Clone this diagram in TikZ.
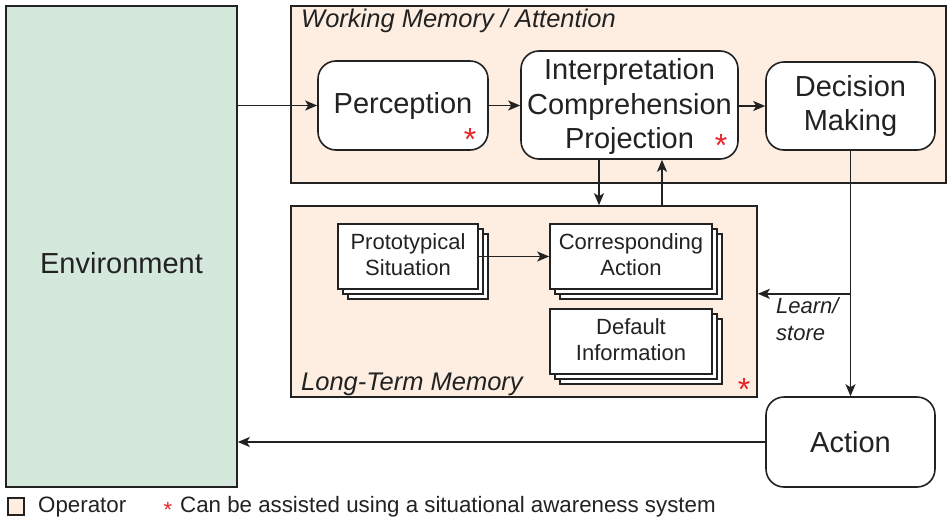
\documentclass[tikz,border=0pt]{standalone}
\usepackage{fontspec}
\setmainfont{Liberation Sans}
\usetikzlibrary{arrows.meta,calc,shadows}
\definecolor{envfill}{HTML}{D5E8DC}
\definecolor{opfill}{HTML}{FDEEE1}
\definecolor{ink}{HTML}{222222}
\definecolor{star}{HTML}{E8232A}
\begin{document}
\begin{tikzpicture}[x=1pt,y=-1pt,
  every node/.style={text=ink},
  line/.style={draw=ink,line width=1.6pt},
  arr/.style={draw=ink,line width=1.7pt,-{Stealth[length=12pt,width=10pt,inset=3pt]}},
  region/.style={line,fill=opfill,rectangle,inner sep=0pt},
  rbox/.style={line,fill=white,rounded corners=18pt,align=center,inner sep=0pt,font=\fontsize{29}{34.5}\selectfont},
  stack/.style={line,fill=white,align=center,inner sep=0pt,
     minimum width=140pt,minimum height=65pt,
     copy shadow={shadow xshift=10pt,shadow yshift=-10pt,draw=ink,fill=white,line width=1.6pt},
     copy shadow={shadow xshift=5pt,shadow yshift=-5pt,draw=ink,fill=white,line width=1.6pt}},
  stxt/.style={inner sep=0pt,align=center,font=\fontsize{22}{26}\selectfont},
  lab/.style={font=\fontsize{25.5}{30}\selectfont\itshape,anchor=west,inner sep=0pt},
  txt/.style={inner sep=0pt,align=center,font=\fontsize{29}{34.5}\selectfont},
  ast/.style={text=star,font=\fontsize{32}{32}\selectfont,inner sep=0pt}
]
\useasboundingbox (0,0) rectangle (947,522);
\fill[white] (0,0) rectangle (947,522);

% Environment
\node[line,fill=envfill,minimum width=231pt,minimum height=481pt,inner sep=0pt] (env) at (121.5,246.5) {};
\node[txt] (envt) at (121.5,263) {Environment};

% Working memory
\node[region,minimum width=655pt,minimum height=177pt] (wm) at (618.5,94.5) {};
\node[lab] (wmlab) at (301,21) {Working Memory / Attention};

% Long-term memory
\node[region,minimum width=466pt,minimum height=191pt] (ltm) at (524,301.5) {};
\node[lab] (ltmlab) at (301,384) {Long-Term Memory};

% Working memory contents
\node[rbox,minimum width=170pt,minimum height=89pt] (perc) at (403,105.5) {};
\node[txt] (perct) at (403,106) {Perception};
\node[rbox,minimum width=217pt,minimum height=108pt] (interp) at (629.5,105) {};
\node[txt] (interpt) at (629.5,106.5) {Interpretation\\Comprehension\\Projection};
\node[rbox,minimum width=169pt,minimum height=88pt] (dec) at (850.5,106) {};
\node[txt] (dect) at (850.5,106) {Decision\\Making};
\node[ast] (a1) at (470,139) {*};
\node[ast] (a2) at (721,145) {*};

% Long-term memory contents
\node[stack] (proto) at (408,256.5) {};
\node[stxt] (protot) at (408,254.5) {Prototypical\\Situation};
\node[stack,minimum width=162pt] (corr) at (631,256.5) {};
\node[stxt] (corrt) at (631,254.5) {Corresponding\\Action};
\node[stack,minimum width=162pt] (defi) at (631,341.5) {};
\node[stxt] (defit) at (631,339.5) {Default\\Information};
\node[ast] (a3) at (744,389) {*};

% Action
\node[rbox,minimum width=169pt,minimum height=90pt] (act) at (850.5,442) {};
\node[txt] (actt) at (850.5,442) {Action};

% Connectors
\draw[arr] (env.east |- perc.west) -- (perc.west);
\draw[arr] (perc.east) -- (perc.east -| interp.west);
\draw[arr] (interp.east |- dec.west) -- (dec.west);
\draw[arr] ([xshift=-30.5pt]interp.south) -- ([xshift=-30.5pt]interp.south |- ltm.north);
\draw[arr] ([xshift=32.5pt]interp.south |- ltm.north) -- ([xshift=32.5pt]interp.south);
\draw[arr] (dec.south) -- (act.north);
\coordinate (br) at ($(dec.south)+(0,143)$);
\draw[arr] (br) -- (br -| ltm.east);
\node[font=\fontsize{22}{27}\selectfont\itshape,align=left,anchor=north west,inner sep=0pt] (learn) at (776,297) {Learn/\\store};
\draw[arr] (proto.east) -- (proto.east -| corr.west);
\draw[arr] (act.west) -- (act.west -| env.east);

% Legend
\node[line,fill=opfill,minimum width=16pt,minimum height=17pt,inner sep=0pt] (legbox) at (16,506.5) {};
\node[font=\fontsize{22.3}{26}\selectfont,anchor=west,inner sep=0pt] (legop) at (38,507) {Operator};
\node[text=star,font=\fontsize{22}{22}\selectfont,inner sep=0pt] (legast) at (168,510) {*};
\node[font=\fontsize{22.3}{26}\selectfont,anchor=west,inner sep=0pt] (legtxt) at (180,507) {Can be assisted using a situational awareness system};
\end{tikzpicture}
\end{document}
